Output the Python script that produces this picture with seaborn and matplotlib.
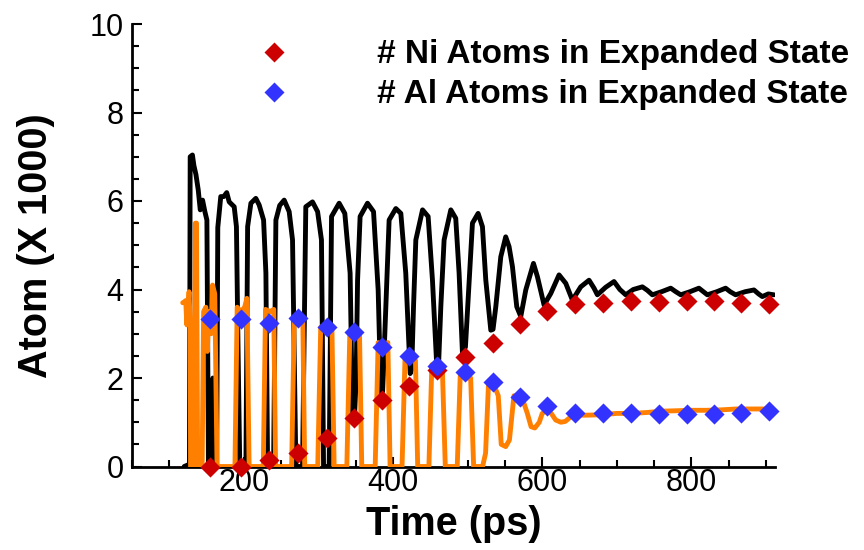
import matplotlib
matplotlib.use('Agg')
import matplotlib.pyplot as plt
import seaborn as sns
from matplotlib.ticker import MultipleLocator
from matplotlib.lines import Line2D

# ---------------- data ----------------
black_t = [120, 127, 128, 131, 133, 135.7, 138.8, 141.5, 144.6, 147.7, 150.4, 152.5, 157, 158.5, 160, 163.5,
           165, 169, 173, 177, 180.3, 187, 190, 192, 194.5, 202.7, 205, 209.4, 216, 220.5, 226.4, 229.5, 231.8,
           239.8, 242.9, 248, 254, 260.7, 265.2, 269.7, 278.6, 283, 292, 298.8, 304, 306.8, 314.3, 317.5, 327.7,
           335.3, 342.4, 345.6, 348, 350.5, 352.4, 355.8, 365.7, 373.8, 380, 383.6, 386, 390.3, 394.7, 403.7,
           410.4, 417, 422.9, 425, 427.4, 430.5, 439.5, 447, 452.8, 458.6, 461, 464, 468.4, 477.4, 484, 488.5,
           493, 497, 502, 506.4, 514, 519.8, 524.3, 531, 534, 537.7, 544.4, 551, 555.5, 560, 565.8, 571.2,
           577.9, 588.2, 593.5, 602.4, 611.4, 622.5, 631.5, 640.4, 651.6, 662.7, 669.4, 673.9, 685, 696.2,
           704, 711.9, 722, 734.2, 741, 747.6, 760, 772.2, 779, 785.6, 798, 810, 816, 821.3, 834, 845.8, 852,
           859.2, 872, 883.8, 890, 895, 903, 910.6]
black_v = [0, 0.05, 7.0, 7.04, 6.8, 6.6, 6.25, 5.8, 6.02, 5.76, 5.57, 0, 0, 2.0, 0, 0,
           5.4, 6.1, 6.1, 6.19, 5.98, 5.87, 5.42, 2.86, 0, 0, 5.42, 5.95, 6.06, 5.91, 5.57, 4.37, 0,
           0, 5.57, 5.9, 6.02, 5.76, 5.12, 0, 0, 5.87, 5.98, 5.76, 5.12, 0, 0, 5.65, 5.95,
           5.72, 4.37, 1.13, 1.0, 2.0, 4.21, 5.65, 5.95, 5.76, 3.99, 1.65, 1.7, 3.61, 5.57, 5.83,
           5.72, 4.37, 2.1, 2.2, 3.61, 5.12, 5.8, 5.65, 4.21, 2.26, 2.3, 3.61, 5.12, 5.8, 5.61, 4.37,
           2.56, 2.7, 4.21, 5.5, 5.72, 5.42, 4.21, 3.08, 3.1, 3.61, 4.74, 5.19, 4.97, 4.52, 3.61, 3.39,
           3.99, 4.59, 4.29, 3.65, 3.91, 4.33, 4.14, 3.76, 4.06, 4.21, 4.03, 3.88, 4.05, 4.18,
           4.0, 3.88, 4.0, 4.06, 3.98, 3.88, 3.95, 4.03, 3.95, 3.88, 3.95, 4.03, 3.95, 3.88, 3.95, 4.03, 3.95,
           3.88, 3.95, 3.99, 3.9, 3.84, 3.9, 3.88]

orange_t = [118, 120, 122, 123.5, 125, 126.5, 128, 128.5, 133, 135, 136.5, 138, 144, 146, 149, 151, 153, 156,
            158, 161, 164, 188, 191, 196, 201, 204, 207, 226, 229, 235, 240, 242.5, 264, 267.5, 273, 279, 281.5,
            299, 303, 311, 318, 321, 338, 342, 349, 355, 358, 376, 380, 387, 393, 396, 412, 416, 423, 430, 433,
            448, 452, 459, 466, 470, 486, 490, 497, 504, 508, 520, 524, 528, 535, 541, 545, 551, 556, 562, 569,
            575, 580, 585, 590, 596, 600, 606, 612, 618, 625, 631, 638, 645, 660, 680, 700, 720, 740, 760, 780,
            800, 820, 840, 860, 880, 900, 906]
orange_v = [3.7, 3.72, 3.75, 3.2, 3.6, 3.95, 3.2, 0, 0, 5.5, 5.5, 0, 0, 3.5, 3.6, 2.6, 3.5, 3.0,
            4.1, 3.9, 0, 0, 3.6, 3.5, 3.6, 3.8, 0, 0, 3.55, 3.5, 3.55, 0, 0, 3.3, 3.25, 3.3, 0,
            0, 3.15, 3.1, 3.15, 0, 0, 3.0, 2.95, 3.0, 0, 0, 2.8, 2.75, 2.8, 0, 0, 2.45, 2.4, 2.4, 0,
            0, 2.3, 2.25, 2.25, 0, 0, 2.05, 2.0, 2.0, 0, 0, 0.3, 1.9, 1.85, 1.6, 0.5, 0.45, 0.6, 1.6, 1.55,
            1.45, 1.2, 0.9, 0.87, 1.0, 1.2, 1.28, 1.2, 1.05, 1.0, 1.02, 1.12, 1.16, 1.16, 1.17, 1.2, 1.2, 1.22,
            1.25, 1.26, 1.27, 1.27, 1.28, 1.3, 1.3, 1.3, 1.3]

ni_t = [155, 196, 234, 272, 311, 347, 384.5, 421.5, 458.6, 496, 534, 570, 607, 644.5, 682, 719, 757, 793.6,
        830, 866, 904]
ni_v = [0.0, 0.0, 0.15, 0.30, 0.64, 1.09, 1.50, 1.82, 2.18, 2.48, 2.78, 3.23, 3.51, 3.67, 3.70, 3.74, 3.72,
        3.73, 3.74, 3.70, 3.67]

al_t = ni_t
al_v = [3.33, 3.33, 3.25, 3.35, 3.15, 3.03, 2.71, 2.50, 2.28, 2.13, 1.92, 1.58, 1.37, 1.22, 1.22, 1.22, 1.18,
        1.18, 1.18, 1.22, 1.25]

legend_labels = ['# Ni Atoms in Expanded State', '# Al Atoms in Expanded State']
x_label = 'Time (ps)'
y_label = 'Atom (X 1000)'

# ---------------- style ----------------
sns.set_theme(style='ticks')
plt.rcParams['font.family'] = ['Liberation Sans', 'DejaVu Sans']
plt.rcParams['text.color'] = 'black'
plt.rcParams['axes.labelcolor'] = 'black'

RED = '#CC0000'
BLUE = '#3333FF'
ORANGE = '#FF8000'

W, H = 864, 550
fig = plt.figure(figsize=(W / 100, H / 100), dpi=100)
L, R, T, B = 132, 775, 24, 466.5
ax = fig.add_axes([L / W, 1 - B / H, (R - L) / W, (B - T) / H])

sns.lineplot(x=black_t, y=black_v, ax=ax, color='black', lw=3.5, sort=False, estimator=None, zorder=2)
sns.lineplot(x=orange_t, y=orange_v, ax=ax, color=ORANGE, lw=3.5, sort=False, estimator=None, zorder=3)
sns.scatterplot(x=ni_t, y=ni_v, ax=ax, marker='D', s=105, color=RED, linewidth=0, clip_on=False, zorder=5)
sns.scatterplot(x=al_t, y=al_v, ax=ax, marker='D', s=105, color=BLUE, linewidth=0, clip_on=False, zorder=6)

ax.set_xlim(50, 912)
ax.set_ylim(0, 10)
ax.xaxis.set_major_locator(MultipleLocator(200))
ax.xaxis.set_minor_locator(MultipleLocator(50))
ax.yaxis.set_major_locator(MultipleLocator(2))
ax.yaxis.set_minor_locator(MultipleLocator(0.5))

for s in ['top', 'right']:
    ax.spines[s].set_visible(False)
for s in ['left', 'bottom']:
    ax.spines[s].set_linewidth(2)
    ax.spines[s].set_color('black')

ax.tick_params(which='both', direction='in', color='black', width=1.5, labelcolor='black')
ax.tick_params(which='major', length=7.5, labelsize=22)
ax.tick_params(which='minor', length=5)
ax.tick_params(axis='x', which='major', pad=1)
ax.tick_params(axis='y', which='major', pad=6)

ax.set_xlabel(x_label, fontsize=28.5, fontweight='bold', color='black')
ax.set_ylabel(y_label, fontsize=28.5, fontweight='bold', color='black')
ax.xaxis.set_label_coords(0.5, -0.088)
ax.yaxis.set_label_coords(-0.12, 0.5)

handles = [Line2D([], [], marker='D', ls='none', ms=10.2, mfc=RED, mec='none'),
           Line2D([], [], marker='D', ls='none', ms=10.2, mfc=BLUE, mec='none')]
ax.legend(handles, legend_labels, loc='upper left', bbox_to_anchor=(257 / W, 1 - 39.5 / H),
          bbox_transform=fig.transFigure, frameon=False, prop={'weight': 'bold', 'size': 24},
          handlelength=1, handletextpad=2.6, labelspacing=0.27, borderpad=0, borderaxespad=0)

fig.savefig('out.png', dpi=100)
